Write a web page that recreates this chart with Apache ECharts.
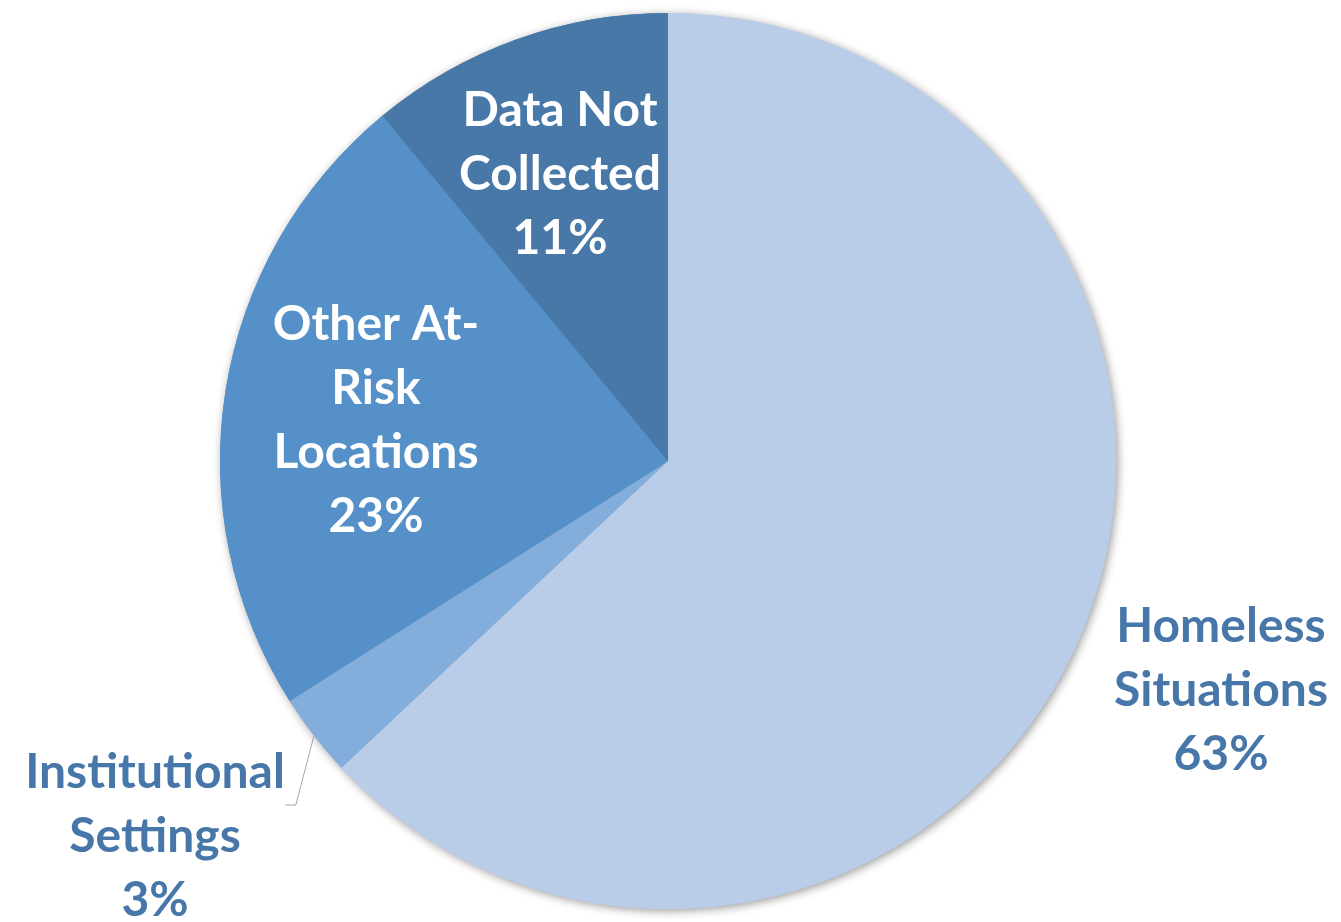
<!DOCTYPE html>
<html lang="en">
<head>
    <meta charset="utf-8">
    <title>Pie</title>
    <style>
        html, body { margin: 0; padding: 0; background: #fff; }
        #main { width: 1341px; height: 922px; }
    </style>
</head>
<body>
<div id="main"></div>
<script src="https://cdn.jsdelivr.net/npm/echarts@6/dist/echarts.min.js"></script>
<script>
    var categories = ['Homeless Situations', 'Institutional Settings', 'Other At-Risk Locations', 'Data Not Collected'];
    var labelText = ['Homeless\nSituations', 'Institutional\nSettings', 'Other At-\nRisk\nLocations', 'Data Not\nCollected'];
    var values = [63, 3, 23, 11];
    var colors = ['#B9CDE8', '#83AEDC', '#5591C8', '#4778A8'];

    var pieData = categories.map(function (c, i) {
        return { name: c, value: values[i], itemStyle: { color: colors[i] } };
    });

    // label centres (layout only)
    var labelPos = [[1221, 691], [155, 805], [376, 421], [560, 175]];

    var myChart = echarts.init(document.getElementById('main'));
    var option = {
        animation: false,
        series: [
            {
                // shadow underneath
                type: 'pie',
                silent: true,
                center: [668, 461],
                radius: 448,
                startAngle: 90,
                data: pieData,
                label: { show: false },
                labelLine: { show: false },
                itemStyle: {
                    shadowBlur: 10,
                    shadowOffsetX: 2,
                    shadowOffsetY: 2,
                    shadowColor: 'rgba(0,0,0,0.4)'
                },
                z: 1
            },
            {
                type: 'pie',
                center: [668, 461],
                radius: 448,
                startAngle: 90,
                z: 2,
                data: pieData.map(function (d, i) {
                    var isOut = i === 1;
                    return {
                        name: d.name,
                        value: d.value,
                        itemStyle: d.itemStyle,
                        label: {
                            position: isOut ? 'outside' : 'inside',
                            color: (i === 0 || i === 1) ? '#4677A8' : '#ffffff'
                        },
                        labelLine: { show: isOut }
                    };
                }),
                label: {
                    show: true,
                    fontFamily: 'Lato',
                    fontWeight: 'bold',
                    fontSize: 48,
                    lineHeight: 64,
                    align: 'center',
                    formatter: function (p) {
                        var txt = labelText[p.dataIndex] + '\n' + Math.round(p.percent) + '%';
                        // empty top line so the leader line meets the first text line
                        return p.dataIndex === 1 ? ' \n' + txt : txt;
                    }
                },
                labelLine: {
                    length: 20,
                    length2: 11,
                    lineStyle: { color: '#A6A6A6', width: 1 }
                },
                labelLayout: function (p) {
                    var pos = labelPos[p.dataIndex];
                    return { x: pos[0], y: pos[1], align: 'center', verticalAlign: 'middle' };
                }
            }
        ]
    };
    myChart.setOption(option);
</script>
</body>
</html>
